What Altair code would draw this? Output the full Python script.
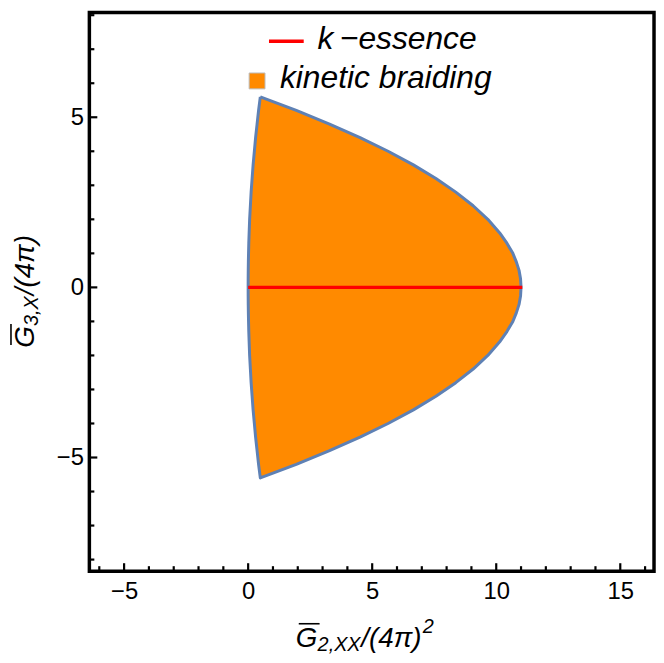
import altair as alt
import pandas as pd

# ---- data ----
# boundary of the "kinetic braiding" region, sampled along the vertical axis
region_y = [5.6, 5.2, 4.8, 4.4, 4.0, 3.6, 3.2, 2.8, 2.4, 2.0, 1.6, 1.3, 1.0, 0.75, 0.5, 0.25, 0.0,
            -0.25, -0.5, -0.75, -1.0, -1.3, -1.6, -2.0, -2.4, -2.8, -3.2, -3.6, -4.0, -4.4, -4.8, -5.2, -5.6]
region_x_left = [0.49, 0.42, 0.36, 0.30, 0.25, 0.20, 0.16, 0.12, 0.09, 0.06, 0.04, 0.026, 0.016, 0.009, 0.004, 0.001, 0.0,
                 0.001, 0.004, 0.009, 0.016, 0.026, 0.04, 0.06, 0.09, 0.12, 0.16, 0.20, 0.25, 0.30, 0.36, 0.42, 0.49]
region_x_right = [0.49, 1.94, 3.28, 4.51, 5.64, 6.66, 7.57, 8.37, 9.07, 9.66, 10.14, 10.43, 10.67, 10.81, 10.92, 10.98, 11.0,
                  10.98, 10.92, 10.81, 10.67, 10.43, 10.14, 9.66, 9.07, 8.37, 7.57, 6.66, 5.64, 4.51, 3.28, 1.94, 0.49]

# k-essence segment
kess_x = [0.0, 11.05]
kess_y = [0.0, 0.0]

x_major = [-5, 0, 5, 10, 15]
x_minor = [-6, -4, -3, -2, -1, 1, 2, 3, 4, 6, 7, 8, 9, 11, 12, 13, 14, 16]
y_major = [-5, 0, 5]
y_minor = [-8, -7, -6, -4, -3, -2, -1, 1, 2, 3, 4, 6, 7, 8]

legend_labels = ["k\u2009\u2212essence", "kinetic braiding"]

ORANGE = "#FF8A00"
EDGE = "#5E81B5"
FONT = "Liberation Sans"
W, H = 569, 563

xscale = alt.Scale(domain=[-6.4, 16.36], nice=False, zero=False)
yscale = alt.Scale(domain=[-8.34, 8.08], nice=False, zero=False)

region_df = pd.DataFrame({"y": region_y, "xl": region_x_left, "xr": region_x_right})

outline_pts = []
i = 0
for yy, xx in zip(region_y, region_x_left):
    outline_pts.append({"i": i, "x": xx, "y": yy}); i += 1
for yy, xx in zip(reversed(region_y), reversed(region_x_right)):
    outline_pts.append({"i": i, "x": xx, "y": yy}); i += 1
outline_df = pd.DataFrame(outline_pts)

kess_df = pd.DataFrame({"x": kess_x, "y": kess_y})

area = alt.Chart(region_df).mark_area(orient="horizontal", color=ORANGE, opacity=1).encode(
    y=alt.Y("y:Q", scale=yscale, title=None,
            axis=alt.Axis(title=None, values=y_major, labelPadding=6)),
    x=alt.X("xl:Q", scale=xscale, title=None,
            axis=alt.Axis(title=None, values=x_major, labelPadding=9)),
    x2="xr:Q",
)

outline = alt.Chart(outline_df).mark_line(color=EDGE, strokeWidth=3, strokeJoin="round").encode(
    x=alt.X("x:Q", scale=xscale, title=None),
    y=alt.Y("y:Q", scale=yscale, title=None),
    order="i:Q",
)

kess = alt.Chart(kess_df).mark_line(color="#FF0000", strokeWidth=3.5).encode(
    x=alt.X("x:Q", scale=xscale, title=None),
    y=alt.Y("y:Q", scale=yscale, title=None),
)

def yticks(vals, length):
    return alt.Chart(pd.DataFrame({"v": vals})).mark_rule(color="black", strokeWidth=2.2).encode(
        y=alt.Y("v:Q", scale=yscale, title=None), x=alt.value(0), x2=alt.value(length))

def xticks(vals, length):
    return alt.Chart(pd.DataFrame({"v": vals})).mark_rule(color="black", strokeWidth=2.2).encode(
        x=alt.X("v:Q", scale=xscale, title=None), y=alt.value(H), y2=alt.value(H - length))

def text(t, x, y, size, angle=0, style="italic"):
    return alt.Chart(pd.DataFrame({"t": [t]})).mark_text(
        font=FONT, fontSize=size, fontStyle=style, align="left", baseline="alphabetic",
        angle=angle, color="black").encode(x=alt.value(x), y=alt.value(y), text="t:N")

def seg(x1, y1, x2, y2, color="black", width=1.6):
    return alt.Chart(pd.DataFrame({"a": [0]})).mark_rule(color=color, strokeWidth=width).encode(
        x=alt.value(x1), y=alt.value(y1), x2=alt.value(x2), y2=alt.value(y2))

# legend
leg_line = seg(181, 29, 216, 29, color="#FF0000", width=3.5)
leg_t1 = text(legend_labels[0], 230, 37, 32)
leg_sq = alt.Chart(pd.DataFrame({"a": [0]})).mark_rect(
    color=ORANGE, stroke="#BBBBBB", strokeWidth=1).encode(
    x=alt.value(161), x2=alt.value(177), y=alt.value(61), y2=alt.value(77))
leg_t2 = text(legend_labels[1], 192, 76, 32)

# x-axis title:  G_{2,XX}/(4π)^2
F, f = 28, 20
gx = 208
xt = [
    text("G", gx, 639, F),
    seg(gx + 3, 616, gx + 24, 616),
    text("2,XX", gx + 22, 643, f),
    text("/(4\u03c0)", gx + 22 + 44, 639, F),
    text("2", gx + 22 + 44 + 62, 625, f),
]

# y-axis title:  G_{3,X}/(4π)  (rotated)
bx = -56
gy = 338
yt = [
    text("G", bx, gy, F, angle=270),
    seg(bx - 23, gy - 3, bx - 23, gy - 24),
    text("3,X", bx + 4, gy - 22, f, angle=270),
    text("/(4\u03c0)", bx, gy - 22 - 31, F, angle=270),
]

chart = alt.layer(
    area, outline, kess,
    yticks(y_major, 8), yticks(y_minor, 5),
    xticks(x_major, 8), xticks(x_minor, 5),
    leg_line, leg_t1, leg_sq, leg_t2,
    *xt, *yt,
).properties(
    width=W, height=H,
    autosize=alt.AutoSizeParams(type="none"),
    padding={"left": 82, "top": 2, "right": 2, "bottom": 82},
    background="white",
).configure_axis(
    ticks=False, domain=False, grid=False, labelFont=FONT, labelFontSize=24,
    labelColor="black", titleFontSize=1,
).configure_view(
    stroke="black", strokeWidth=3.5
)

chart.save("out.html", embed_options={"renderer": "svg", "actions": False})
